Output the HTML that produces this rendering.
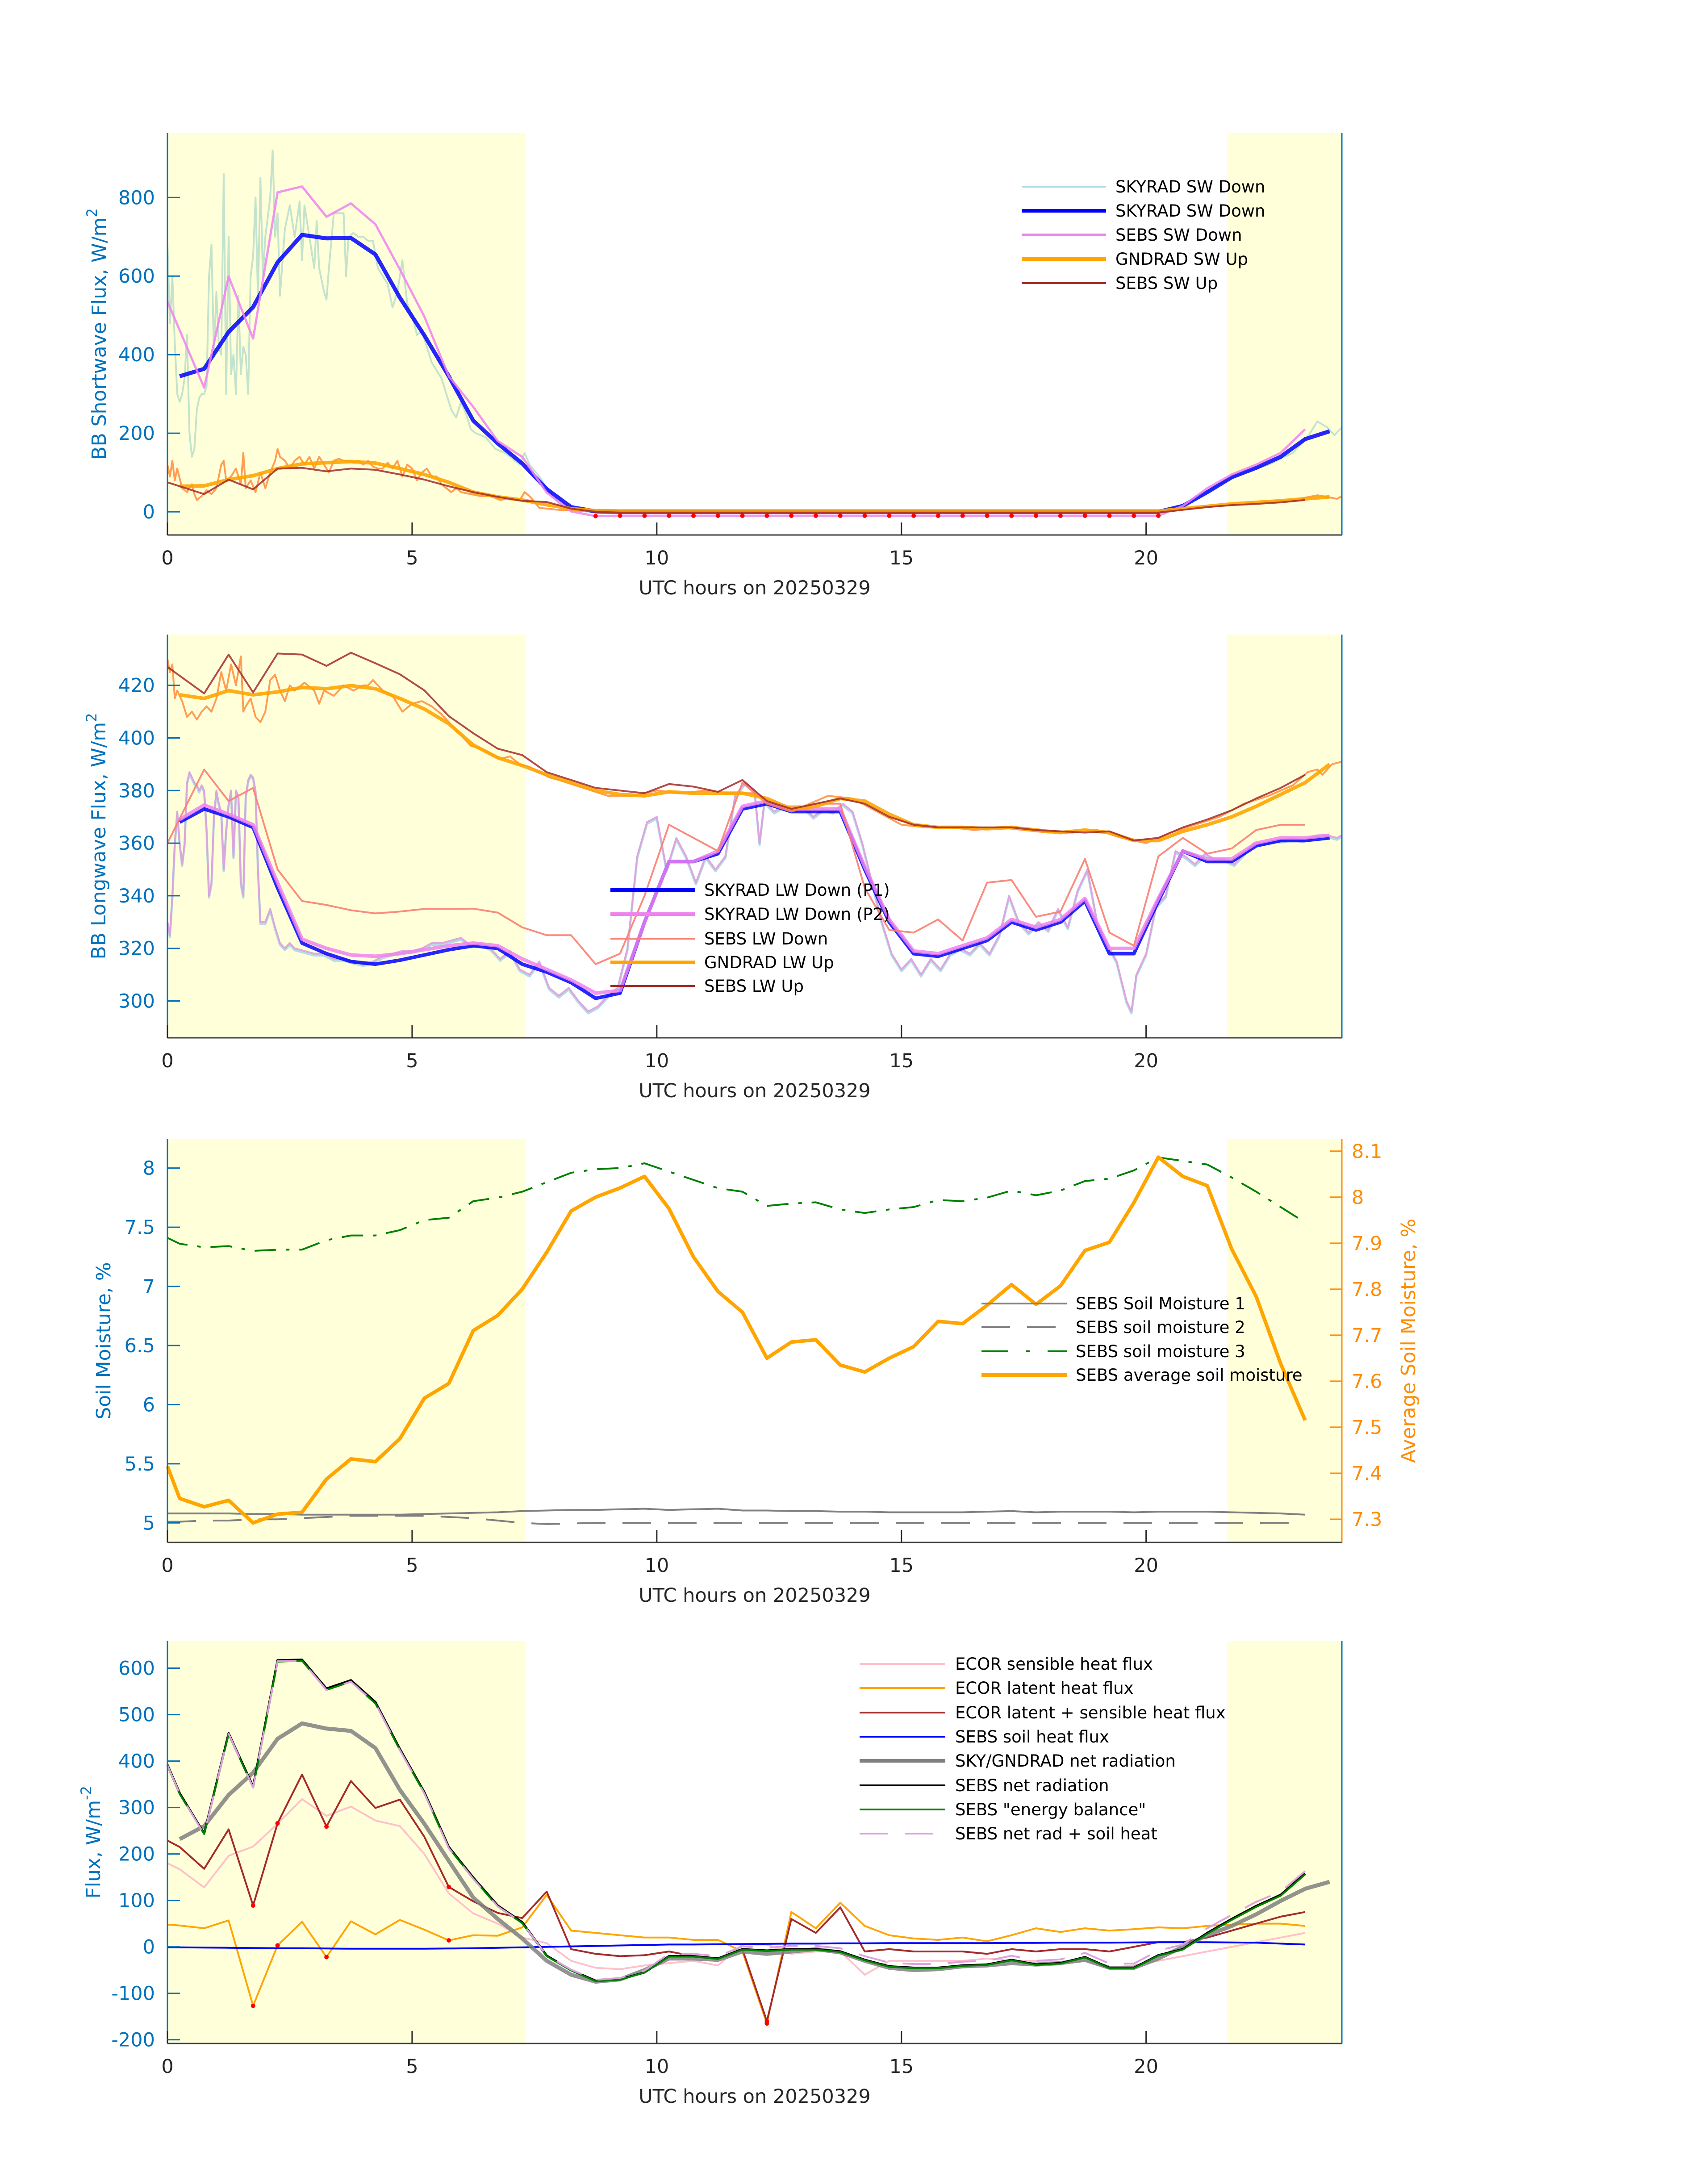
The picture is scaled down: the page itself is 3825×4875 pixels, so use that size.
<!DOCTYPE html>
<html><head><meta charset="utf-8"><title>SEBS / SKYRAD fluxes 20250329</title>
<style>
html,body{margin:0;padding:0;background:#fff;}
svg{display:block;font-family:"DejaVu Sans","Liberation Sans",sans-serif;}
</style></head>
<body>
<svg id="chart" xmlns="http://www.w3.org/2000/svg" width="3825" height="4875" viewBox="0 0 3825 4875">
<rect x="0" y="0" width="3825" height="4875" fill="#ffffff"/>
</svg>
<script>
// ---------------- DATA ----------------
const HH = [0.25,0.75,1.25,1.75,2.25,2.75,3.25,3.75,4.25,4.75,5.25,5.75,6.25,6.75,7.25,7.75,8.25,8.75,9.25,9.75,10.25,10.75,11.25,11.75,12.25,12.75,13.25,13.75,14.25,14.75,15.25,15.75,16.25,16.75,17.25,17.75,18.25,18.75,19.25,19.75,20.25,20.75,21.25,21.75,22.25,22.75,23.25,23.75];
const HRS_A = [0,0.75,1.25,1.75,2.25,2.75,3.25,3.75,4.25,4.75,5.25,5.75,6.25,6.75,7.25,7.75,8.25,8.75,9.25,9.75,10.25,10.75,11.25,11.75,12.25,12.75,13.25,13.75,14.25,14.75,15.25,15.75,16.25,16.75,17.25,17.75,18.25,18.75,19.25,19.75,20.25,20.75,21.25,21.75,22.25,22.75,23.25];
const HRS_B = [0,0.25,0.75,1.25,1.75,2.25,2.75,3.25,3.75,4.25,4.75,5.25,5.75,6.25,6.75,7.25,7.75,8.25,8.75,9.25,9.75,10.25,10.75,11.25,11.75,12.25,12.75,13.25,13.75,14.25,14.75,15.25,15.75,16.25,16.75,17.25,17.75,18.25,18.75,19.25,19.75,20.25,20.75,21.25,21.75,22.25,22.75,23.25];
const xTicks = [0,5,10,15,20];
const nightStart = 7.32, nightEnd = 21.66;

// Panel 1 shortwave
const swRawHours = [0,0.05,0.1,0.15,0.2,0.25,0.3,0.35,0.4,0.45,0.5,0.55,0.6,0.65,0.7,0.75,0.8,0.85,0.9,0.95,1.0,1.05,1.1,1.15,1.2,1.25,1.3,1.35,1.4,1.45,1.5,1.55,1.6,1.65,1.7,1.75,1.8,1.85,1.9,1.95,2.0,2.1,2.15,2.2,2.25,2.3,2.4,2.5,2.6,2.7,2.75,2.8,2.9,3.0,3.05,3.1,3.2,3.25,3.3,3.4,3.5,3.6,3.65,3.7,3.8,3.9,4.0,4.1,4.2,4.3,4.4,4.5,4.6,4.7,4.8,4.9,5.0,5.1,5.2,5.3,5.4,5.5,5.6,5.7,5.8,5.9,6.0,6.1,6.2,6.3,6.5,6.7,6.9,7.0,7.1,7.2,7.3,7.4,7.6,7.8,8.0,8.3,8.6,9,12,15,18,20.4,20.6,21,21.5,22,22.5,23,23.3,23.5,23.7,23.85,24];
const skyradSwRaw = [680,480,600,430,300,280,300,340,450,200,140,160,260,290,300,300,320,600,680,400,560,420,400,860,300,700,350,400,300,550,350,420,400,300,600,650,800,540,850,600,700,800,920,700,760,550,720,780,700,790,640,780,700,620,740,620,560,540,620,760,760,760,600,700,710,700,700,690,690,620,600,580,520,560,640,530,500,450,460,420,380,360,340,300,260,240,280,250,210,200,190,160,150,140,130,120,150,120,90,50,20,5,0,0,0,0,0,0,10,30,70,100,120,150,190,230,215,195,215];
const gndSwRawHours = [0,0.05,0.1,0.15,0.2,0.3,0.4,0.5,0.55,0.6,0.7,0.8,0.9,1.0,1.1,1.15,1.2,1.3,1.4,1.5,1.55,1.6,1.7,1.8,1.9,2.0,2.1,2.2,2.25,2.3,2.4,2.5,2.6,2.7,2.8,2.9,3.0,3.1,3.2,3.3,3.4,3.5,3.6,3.7,3.8,3.9,4.0,4.1,4.2,4.3,4.4,4.5,4.6,4.7,4.8,4.9,5.0,5.1,5.2,5.3,5.4,5.5,5.6,5.7,5.8,5.9,6.0,6.2,6.4,6.6,6.8,7.0,7.2,7.3,7.4,7.6,8.0,8.5,12,16,20.5,21,22,23,23.5,23.7,23.9,24];
const gndradSwRaw = [120,90,130,80,110,60,50,70,45,30,40,55,45,60,120,130,80,90,110,70,150,60,80,50,100,60,100,130,160,140,130,110,130,140,120,140,110,140,120,100,130,135,130,130,125,130,120,130,115,110,110,125,110,130,90,120,110,80,100,110,90,90,70,60,50,60,50,45,40,40,30,35,30,50,40,10,5,2,1,1,1,10,20,30,42,38,33,40];
const skyradSwDown = [345,364,458,521,635,705,696,697,655,545,449,345,232,174,123,58,12,1,0,0,0,0,0,0,0,0,0,0,0,0,0,0,0,0,0,0,0,0,0,0,0,15,50,88,112,140,185,205];
const sebsSwDown = [535,316,599,441,813,828,751,785,732,617,497,345,267,180,140,49,1,-11,-10,-10,-10,-10,-10,-10,-10,-10,-10,-10,-10,-10,-10,-10,-10,-10,-10,-10,-10,-10,-10,-10,-10,15,60,95,120,150,210];
const gndradSwUp = [65,66,82,92,110,122,125,128,124,110,95,75,50,38,30,18,8,3,2,2,2,2,2,2,2,2,2,2,2,2,2,2,2,2,2,2,2,2,2,2,2,8,14,20,24,28,33,38];
const sebsSwUp = [75,45,82,57,110,112,103,110,107,95,82,65,50,38,28,25,8,0,-2,-2,-2,-2,-2,-2,-2,-2,-2,-2,-2,-2,-2,-2,-2,-2,-2,-2,-2,-2,-2,-2,-2,5,12,17,20,24,30];
const swFlagHours = [8.75,9.25,9.75,10.25,10.75,11.25,11.75,12.25,12.75,13.25,13.75,14.25,14.75,15.25,15.75,16.25,16.75,17.25,17.75,18.25,18.75,19.25,19.75,20.25];
const swTicks = [0,200,400,600,800];

// Panel 2 longwave
const lwRawHours = [0,0.05,0.1,0.15,0.2,0.25,0.3,0.35,0.4,0.45,0.5,0.55,0.6,0.65,0.7,0.75,0.8,0.85,0.9,0.95,1.0,1.05,1.1,1.15,1.2,1.25,1.3,1.35,1.4,1.45,1.5,1.55,1.6,1.65,1.7,1.75,1.8,1.85,1.9,2.0,2.1,2.2,2.3,2.4,2.5,2.6,2.8,3.0,3.2,3.4,3.6,3.8,4.0,4.2,4.4,4.6,4.8,5.0,5.2,5.4,5.6,5.8,6.0,6.2,6.4,6.6,6.8,7.0,7.2,7.4,7.6,7.8,8.0,8.2,8.4,8.6,8.8,9.0,9.2,9.4,9.6,9.8,10.0,10.2,10.4,10.6,10.8,11.0,11.2,11.4,11.6,11.8,12.0,12.1,12.2,12.4,12.6,12.8,13.0,13.2,13.4,13.6,13.8,14.0,14.2,14.4,14.6,14.8,15.0,15.2,15.4,15.6,15.8,16.0,16.2,16.4,16.6,16.8,17.0,17.2,17.4,17.6,17.8,18.0,18.2,18.4,18.6,18.8,19.0,19.2,19.4,19.6,19.7,19.8,20.0,20.2,20.4,20.6,20.8,21.0,21.2,21.4,21.6,21.8,22.0,22.2,22.4,22.6,22.8,23.0,23.2,23.5,23.7,23.9,24];
const skyradLwRaw = [330,325,340,360,372,360,352,360,383,387,385,383,382,380,382,380,365,340,345,370,380,375,372,350,365,375,380,355,380,378,345,340,378,384,386,385,380,350,330,330,335,328,322,320,322,320,319,318,318,316,316,315,314,315,317,318,319,319,320,322,322,323,324,321,322,320,316,319,312,310,315,305,302,305,300,296,298,302,305,320,355,368,370,350,362,355,345,355,350,355,378,383,380,360,376,372,374,373,374,370,373,372,375,372,360,345,330,318,312,316,310,316,312,318,320,318,322,318,325,340,330,326,330,327,335,328,342,350,330,322,315,300,296,310,318,336,340,357,355,352,356,354,354,352,356,360,360,361,361,362,361,363,363,362,363];
const gndLwRawHours = [0,0.05,0.1,0.15,0.2,0.3,0.4,0.5,0.6,0.7,0.8,0.9,1.0,1.1,1.2,1.3,1.4,1.5,1.55,1.6,1.7,1.8,1.9,2.0,2.1,2.2,2.3,2.4,2.5,2.6,2.8,3.0,3.1,3.2,3.4,3.6,3.8,4.0,4.1,4.2,4.4,4.6,4.8,5.0,5.2,5.4,5.6,5.8,6.0,6.2,6.4,6.6,6.8,7.0,7.2,7.4,7.6,7.8,8.0,8.5,9.0,9.5,10,10.5,11,11.5,12,12.5,13,13.5,14,14.5,15,15.5,16,16.5,17,17.5,18,18.5,19,19.5,20,20.5,21,21.5,22,22.5,23,23.3,23.5,23.6,23.8,24];
const gndradLwRaw = [430,425,428,415,418,414,408,410,407,410,412,410,415,425,418,428,420,431,410,412,415,408,406,410,422,424,418,414,420,418,421,418,413,418,416,420,418,420,420,422,418,416,410,413,414,412,409,405,401,397,396,394,392,393,390,389,387,385,384,381,378,378,380,379,380,379,379,374,374,378,377,372,367,366,366,365,366,365,364,364,365,362,360,364,367,370,375,378,382,387,388,386,390,391];
const skyradLwDownP1 = [368,373,370,366,343,322,318,315,314,315.5,317.5,319.5,321,320,314,311,307,301,303,330,353,353,356,373,375,372,372,372,350,330,318,317,320,323,330,327,330,338,318,318,338,357,353,353,359,361,361,362];
const skyradLwDownP2 = [369,374.5,371,367,345,323.5,320,317.5,317,318,319.5,321,322,321,316,312,308,303,304,330,353,353,357,374,376,373,373,373,351,331,319,318,321,324,331,328,331,339,320,320,339,357,354,354,360,362,362,363];
const sebsLwDown = [360,388,376,381,350,338,336.5,334.5,333.3,334,335,335,335.1,333.6,328,325,325,314,318,340,367,362,357,383,375,372,375,375,343,327,326,331,323,345,346,332,334,354,326,321,355,362,356,358,365,367,367];
const gndradLwUp = [416.4,415,418,416.4,417.5,419.2,418.7,419.9,418.7,415,411,405.4,397.3,392.5,389.5,386,383,380,378.5,378,379.5,379,379,379,377,373,374,377,376,371,367,366,366,365.5,366,365,364,365,364,361,361,364.5,367,370,374,378.5,383,390];
const sebsLwUp = [427,416.9,431.7,417.3,432.1,431.7,427.4,432.4,428.4,424.2,418.1,408.3,401.8,395.9,393.5,387,384,381,380,379,382.5,381.5,379.5,384,376,373,375,377,375,370,367,366,366,366,366,365,364.5,364,364.5,361,362,366,369,372.5,377,381,386];
const lwTicks = [300,320,340,360,380,400,420];

// Panel 3 soil moisture
const soilMoisture1 = [5.08,5.08,5.08,5.08,5.075,5.075,5.07,5.07,5.07,5.07,5.07,5.075,5.08,5.085,5.09,5.1,5.105,5.11,5.11,5.115,5.12,5.11,5.115,5.12,5.105,5.105,5.1,5.1,5.095,5.095,5.09,5.09,5.09,5.09,5.095,5.1,5.09,5.095,5.095,5.095,5.09,5.095,5.095,5.095,5.09,5.085,5.08,5.07];
const soilMoisture2 = [5.01,5.01,5.02,5.02,5.03,5.03,5.04,5.05,5.06,5.06,5.06,5.06,5.05,5.04,5.02,5.0,4.99,4.995,5.0,5.0,5.0,5.0,5.0,5.0,5.0,5.0,5.0,5.0,5.0,5.0,5.0,5.0,5.0,5.0,5.0,5.0,5.0,5.0,5.0,5.0,5.0,5.0,5.0,5.0,5.0,5.0,5.0,5.0];
const soilMoisture3 = [7.41,7.36,7.33,7.34,7.30,7.31,7.31,7.39,7.43,7.43,7.475,7.56,7.58,7.72,7.75,7.80,7.88,7.96,7.99,8.00,8.04,7.97,7.90,7.83,7.80,7.68,7.70,7.71,7.65,7.62,7.65,7.67,7.73,7.72,7.75,7.81,7.77,7.81,7.89,7.91,7.98,8.09,8.06,8.03,7.92,7.80,7.67,7.54];
const soilMoistureAvg = [7.415,7.345,7.327,7.341,7.292,7.311,7.315,7.387,7.431,7.425,7.475,7.563,7.595,7.71,7.743,7.80,7.88,7.97,8.0,8.02,8.045,7.975,7.87,7.795,7.75,7.65,7.685,7.69,7.635,7.62,7.65,7.675,7.73,7.725,7.765,7.81,7.767,7.807,7.884,7.902,7.988,8.087,8.045,8.025,7.887,7.784,7.638,7.515];
const smTicks = [5,5.5,6,6.5,7,7.5,8];
const smTickLabels = ["5","5.5","6","6.5","7","7.5","8"];
const smAvgTicks = [7.3,7.4,7.5,7.6,7.7,7.8,7.9,8.0,8.1];
const smAvgTickLabels = ["7.3","7.4","7.5","7.6","7.7","7.8","7.9","8","8.1"];

// Panel 4 fluxes
const ecorSensible = [180,167,128,196,216,265,318,282,302,272,260,200,115,72,50,20,8,-30,-45,-48,-40,-35,-30,-40,5,5,-15,-10,-10,-60,-30,-30,-30,-30,-25,-30,-30,-35,-30,-45,-40,-30,-20,-10,0,10,20,30];
const ecorLatent = [48,46,40,57,-127,3,54,-22,55,27,58,37,14,25,24,42,112,35,30,25,20,20,15,15,-10,-165,75,40,95,45,25,18,15,20,12,25,40,32,40,35,38,42,40,45,48,50,50,45];
const ecorLatSens = [229,215,168,253,89,266,371,259,357,299,317,237,129,98,73,62,119,-5,-15,-20,-18,-10,-20,-25,-5,-160,60,30,85,-10,-5,-10,-10,-10,-15,-5,-10,-5,-5,-10,0,10,10,20,35,50,65,75];
const sebsSoilHeat = [-1,-1,-1.5,-2,-2.5,-3,-3,-3.5,-4,-4,-4,-4,-3.5,-3,-2,-1,0,1,2,3,4,5,5,5.5,6,6.5,7,7,7.5,7.5,8,8,8,8,8,8.5,8.5,9,9,9,9.5,10,10,10,9.5,9,7,5];
const skyGndNet = [232,260,327,375,448,481,470,465,428,338,265,185,106,60,18,-30,-60,-75,-70,-50,-25,-25,-28,-10,-15,-10,-5,-12,-30,-45,-50,-48,-42,-40,-35,-38,-35,-28,-45,-45,-25,0,25,45,70,99,125,140];
const sebsNetRad = [392,331,244,460,345,617,618,556,574,527,426,333,215,149,89,53,-19,-50,-73,-70,-55,-20,-20,-25,-5,-8,-5,-5,-10,-28,-42,-45,-45,-40,-38,-28,-38,-35,-22,-45,-45,-18,-5,30,60,88,112,158];
const sebsEnergyBal = [390,329,243,458,343,614,616,553,571,524,424,331,213,147,87,51,-20,-51,-74,-71,-55,-21,-21,-26,-6,-9,-6,-6,-11,-29,-43,-46,-46,-41,-39,-29,-39,-36,-23,-46,-46,-19,-6,28,58,86,110,156];
const sebsNetPlusSoil = [391,330,242,459,343,615,616,553,571,524,423,330,212,146,87,52,-19,-49,-71,-67,-51,-15,-15,-20,1,-2,2,2,-3,-20,-34,-37,-37,-32,-30,-19,-30,-27,-13,-36,-36,-8,5,40,69,97,119,163];
const fluxFlagHours = [1.75,2.25,3.25,5.75,12.25];
const fluxTicks = [-200,-100,0,100,200,300,400,500,600];

// ---------------- LAYOUT ----------------
const NS = "http://www.w3.org/2000/svg";
const svg = document.getElementById('chart');
const XL = 375, XR = 3005, XMIN = 0, XMAX = 24;
const BLUE = "#0072BD", DARK = "#262626", ORANGE_AX = "#FF8C00";
const panels = [
  {top:298, bottom:1198, ymin:-59, ymax:964},
  {top:1421, bottom:2324, ymin:286, ymax:439.3},
  {top:2551, bottom:3454, ymin:4.835, ymax:8.244, y2min:7.2495, y2max:8.126},
  {top:3674.5, bottom:4576, ymin:-208, ymax:658.7}
];
function sx(h){ return XL + (h - XMIN) / (XMAX - XMIN) * (XR - XL); }
function syF(p){ return v => p.bottom - (v - p.ymin) / (p.ymax - p.ymin) * (p.bottom - p.top); }
function sy2F(p){ return v => p.bottom - (v - p.y2min) / (p.y2max - p.y2min) * (p.bottom - p.top); }

function el(tag, attrs, parent){
  const e = document.createElementNS(NS, tag);
  for (const k in attrs) e.setAttribute(k, attrs[k]);
  (parent || svg).appendChild(e);
  return e;
}
function txt(parent, x, y, s, size, fill, anchor){
  const t = el('text', {x:x, y:y, 'font-size':size, fill:fill, 'text-anchor':anchor||'start'}, parent);
  t.textContent = s;
  return t;
}
function poly(parent, xs, ys, sy, style, name){
  const n = Math.min(xs.length, ys.length);
  let d = '';
  for (let i = 0; i < n; i++) d += (i ? 'L' : 'M') + sx(xs[i]).toFixed(1) + ',' + sy(ys[i]).toFixed(1);
  const a = {d:d, fill:'none', 'stroke-linejoin':'round', 'stroke-linecap':'butt'};
  for (const k in style) a[k] = style[k];
  const p = el('path', a, parent);
  
  
  return p;
}
function dots(parent, hours, xs, ys, sy, name){
  for (const h of hours){
    const i = xs.indexOf(h);
    if (i < 0) continue;
    const c = el('circle', {cx:sx(h), cy:sy(ys[i]), r:5, fill:'#ff0000'}, parent);
    
    
  }
}

function axesFrame(idx, p){
  const g = el('g', {});
  
  
  const bgs = [[XMIN, nightStart], [nightEnd, XMAX]];
  bgs.forEach((b, j) => {
    const r = el('rect', {x:sx(b[0]), y:p.top, width:sx(b[1])-sx(b[0]), height:p.bottom-p.top, fill:'#ffffda'}, g);
    
    
  });
  return g;
}
function axesOverlay(idx, g, p, yTicks, yLabels, rightColor, sy){
  const ax = el('g', {}, g);
  
  
  const bl = el('line', {x1:XL, y1:p.bottom, x2:XR, y2:p.bottom, stroke:'#404040', 'stroke-width':3}, ax);
  
  
  const ll = el('line', {x1:XL, y1:p.top, x2:XL, y2:p.bottom, stroke:BLUE, 'stroke-width':3}, ax);
  
  
  const rl = el('line', {x1:XR, y1:p.top, x2:XR, y2:p.bottom, stroke:rightColor, 'stroke-width':3}, ax);
  
  
  xTicks.forEach(t => {
    const tk = el('line', {x1:sx(t), y1:p.bottom, x2:sx(t), y2:p.bottom-28, stroke:DARK, 'stroke-width':3}, ax);
    
    
    const tl = txt(ax, sx(t), p.bottom+66, String(t), 43, DARK, 'middle');
    
    
  });
  yTicks.forEach((t, i) => {
    const tk = el('line', {x1:XL, y1:sy(t), x2:XL+28, y2:sy(t), stroke:BLUE, 'stroke-width':3}, ax);
    
    
    const tl = txt(ax, 347, sy(t)+15, yLabels[i], 43, BLUE, 'end');
    
    
  });
  const xt = txt(ax, (XL+XR)/2, p.bottom+133, 'UTC hours on 20250329', 43, DARK, 'middle');
  
  
}
function yTitle(g, x, p, main, sup, color, name){
  const cy = (p.top+p.bottom)/2;
  const t = el('text', {x:x, y:cy, 'font-size':44, fill:color, 'text-anchor':'middle', transform:'rotate(-90 '+x+' '+cy+')'}, g);
  
  
  t.appendChild(document.createTextNode(main));
  if (sup){
    const s = el('tspan', {'font-size':32, dy:-20}, t);
    s.textContent = sup;
  }
}
function legend(g, x1, x2, tx, rows, entries, name){
  const lg = el('g', {}, g);
  
  
  entries.forEach((e, i) => {
    const it = el('g', {}, lg);
    
    
    const a = {x1:x1, y1:rows[i], x2:x2, y2:rows[i], stroke:e.c, 'stroke-width':e.w};
    if (e.dash) a['stroke-dasharray'] = e.dash;
    el('line', a, it);
    txt(it, tx, rows[i]+13, e.t, 37, '#000', 'start');
  });
}

// ---------------- PANEL 1 ----------------
(function(){
  const p = panels[0], sy = syF(p);
  const g = axesFrame(0, p);
  poly(g, swRawHours, skyradSwRaw, sy, {stroke:'#b4dcc8', 'stroke-width':4, opacity:0.8}, 'skyrad-sw-down-raw');
  poly(g, gndSwRawHours, gndradSwRaw, sy, {stroke:'#ff8c3a', 'stroke-width':4, opacity:0.85}, 'gndrad-sw-up-raw');
  poly(g, HH, skyradSwDown, sy, {stroke:'#0000ff', 'stroke-width':9, opacity:0.85}, 'skyrad-sw-down');
  poly(g, HRS_A, sebsSwDown, sy, {stroke:'#ee82ee', 'stroke-width':5, opacity:0.85}, 'sebs-sw-down');
  poly(g, HH, gndradSwUp, sy, {stroke:'#ffa500', 'stroke-width':8, opacity:0.9}, 'gndrad-sw-up');
  poly(g, HRS_A, sebsSwUp, sy, {stroke:'#a52a2a', 'stroke-width':4, opacity:0.85}, 'sebs-sw-up');
  dots(g, swFlagHours, HRS_A, sebsSwDown, sy, 'sw-flag-marker');
  axesOverlay(0, g, p, swTicks, swTicks.map(String), BLUE, sy);
  yTitle(g, 237, p, 'BB Shortwave Flux, W/m', '2', BLUE, 'y-axis-title');
  legend(g, 2288, 2477, 2498, [418,472,526,580,634], [
    {t:'SKYRAD SW Down', c:'#add8e6', w:4},
    {t:'SKYRAD SW Down', c:'#0000ff', w:8},
    {t:'SEBS SW Down', c:'#ee82ee', w:6},
    {t:'GNDRAD SW Up', c:'#ffa500', w:8},
    {t:'SEBS SW Up', c:'#a52a2a', w:4}], 'legend-shortwave');
})();

// ---------------- PANEL 2 ----------------
(function(){
  const p = panels[1], sy = syF(p);
  const g = axesFrame(1, p);
  const shadow = poly(g, lwRawHours, skyradLwRaw, sy, {stroke:'#add8e6', 'stroke-width':5, opacity:0.9}, 'skyrad-lw-down-raw-p1');
  shadow.setAttribute('transform', 'translate(0,4)');
  poly(g, lwRawHours, skyradLwRaw, sy, {stroke:'#dda0dd', 'stroke-width':4, opacity:0.9}, 'skyrad-lw-down-raw-p2');
  poly(g, gndLwRawHours, gndradLwRaw, sy, {stroke:'#ff8c3a', 'stroke-width':4, opacity:0.85}, 'gndrad-lw-up-raw');
  poly(g, HH, skyradLwDownP1, sy, {stroke:'#0000ff', 'stroke-width':8, opacity:0.85}, 'skyrad-lw-down-p1');
  poly(g, HH, skyradLwDownP2, sy, {stroke:'#ee82ee', 'stroke-width':8, opacity:0.85}, 'skyrad-lw-down-p2');
  poly(g, HRS_A, sebsLwDown, sy, {stroke:'#fa8072', 'stroke-width':4, opacity:0.9}, 'sebs-lw-down');
  poly(g, HH, gndradLwUp, sy, {stroke:'#ffa500', 'stroke-width':8, opacity:0.9}, 'gndrad-lw-up');
  poly(g, HRS_A, sebsLwUp, sy, {stroke:'#a52a2a', 'stroke-width':4, opacity:0.85}, 'sebs-lw-up');
  axesOverlay(1, g, p, lwTicks, lwTicks.map(String), BLUE, sy);
  yTitle(g, 236, p, 'BB Longwave Flux, W/m', '2', BLUE, 'y-axis-title');
  legend(g, 1367, 1556, 1577, [1993,2047,2102,2155,2208], [
    {t:'SKYRAD LW Down (P1)', c:'#0000ff', w:8},
    {t:'SKYRAD LW Down (P2)', c:'#ee82ee', w:8},
    {t:'SEBS LW Down', c:'#fa8072', w:4},
    {t:'GNDRAD LW Up', c:'#ffa500', w:8},
    {t:'SEBS LW Up', c:'#a52a2a', w:4}], 'legend-longwave');
})();

// ---------------- PANEL 3 ----------------
(function(){
  const p = panels[2], sy = syF(p), sy2 = sy2F(p);
  const g = axesFrame(2, p);
  poly(g, HRS_B, soilMoisture1, sy, {stroke:'#808080', 'stroke-width':4}, 'soil-moisture-1');
  poly(g, HRS_B, soilMoisture2, sy, {stroke:'#808080', 'stroke-width':4, 'stroke-dasharray':'64,38'}, 'soil-moisture-2');
  poly(g, HRS_B, soilMoisture3, sy, {stroke:'#008000', 'stroke-width':4, 'stroke-dasharray':'48,22,8,22'}, 'soil-moisture-3');
  poly(g, HRS_B, soilMoistureAvg, sy2, {stroke:'#ffa500', 'stroke-width':8}, 'soil-moisture-average');
  axesOverlay(2, g, p, smTicks, smTickLabels, ORANGE_AX, sy);
  smAvgTicks.forEach((t, i) => {
    const tk = el('line', {x1:XR, y1:sy2(t), x2:XR-26, y2:sy2(t), stroke:ORANGE_AX, 'stroke-width':3}, g);
    
    
    const tl = txt(g, 3027, sy2(t)+15, smAvgTickLabels[i], 43, ORANGE_AX, 'start');
    
    
  });
  yTitle(g, 247, p, 'Soil Moisture, %', null, BLUE, 'y-axis-title');
  yTitle(g, 3169, p, 'Average Soil Moisture, %', null, ORANGE_AX, 'right-y-axis-title');
  legend(g, 2198, 2389, 2409, [2919,2972,3026,3079], [
    {t:'SEBS Soil Moisture 1', c:'#808080', w:4},
    {t:'SEBS soil moisture 2', c:'#808080', w:4, dash:'64,38'},
    {t:'SEBS soil moisture 3', c:'#008000', w:4, dash:'60,40,8,40'},
    {t:'SEBS average soil moisture', c:'#ffa500', w:8}], 'legend-soil-moisture');
})();

// ---------------- PANEL 4 ----------------
(function(){
  const p = panels[3], sy = syF(p);
  const g = axesFrame(3, p);
  poly(g, HRS_B, ecorSensible, sy, {stroke:'#ffc0cb', 'stroke-width':4}, 'ecor-sensible-heat-flux');
  poly(g, HRS_B, ecorLatent, sy, {stroke:'#ffa500', 'stroke-width':4}, 'ecor-latent-heat-flux');
  poly(g, HRS_B, ecorLatSens, sy, {stroke:'#a52a2a', 'stroke-width':4}, 'ecor-latent-plus-sensible');
  poly(g, HRS_B, sebsSoilHeat, sy, {stroke:'#0000ff', 'stroke-width':4}, 'sebs-soil-heat-flux');
  poly(g, HH, skyGndNet, sy, {stroke:'#808080', 'stroke-width':9, opacity:0.85}, 'sky-gndrad-net-radiation');
  poly(g, HRS_B, sebsNetRad, sy, {stroke:'#000000', 'stroke-width':5}, 'sebs-net-radiation');
  poly(g, HRS_B, sebsEnergyBal, sy, {stroke:'#008000', 'stroke-width':4}, 'sebs-energy-balance');
  poly(g, HRS_B, sebsNetPlusSoil, sy, {stroke:'#dda0dd', 'stroke-width':4, 'stroke-dasharray':'63,38'}, 'sebs-net-rad-plus-soil-heat');
  dots(g, fluxFlagHours, HRS_B, ecorLatSens, sy, 'ecor-flag-marker');
  dots(g, fluxFlagHours, HRS_B, ecorLatent, sy, 'ecor-flag-marker');
  axesOverlay(3, g, p, fluxTicks, fluxTicks.map(String), BLUE, sy);
  yTitle(g, 224, p, 'Flux, W/m', '-2', BLUE, 'y-axis-title');
  legend(g, 1925, 2117, 2139, [3726,3780,3835,3889,3943,3998,4052,4106], [
    {t:'ECOR sensible heat flux', c:'#ffc0cb', w:4},
    {t:'ECOR latent heat flux', c:'#ffa500', w:4},
    {t:'ECOR latent + sensible heat flux', c:'#a52a2a', w:4},
    {t:'SEBS soil heat flux', c:'#0000ff', w:4},
    {t:'SKY/GNDRAD net radiation', c:'#808080', w:8},
    {t:'SEBS net radiation', c:'#000000', w:4},
    {t:'SEBS "energy balance"', c:'#008000', w:4},
    {t:'SEBS net rad + soil heat', c:'#dda0dd', w:4, dash:'63,38'}], 'legend-flux');
})();
</script>
</body></html>
